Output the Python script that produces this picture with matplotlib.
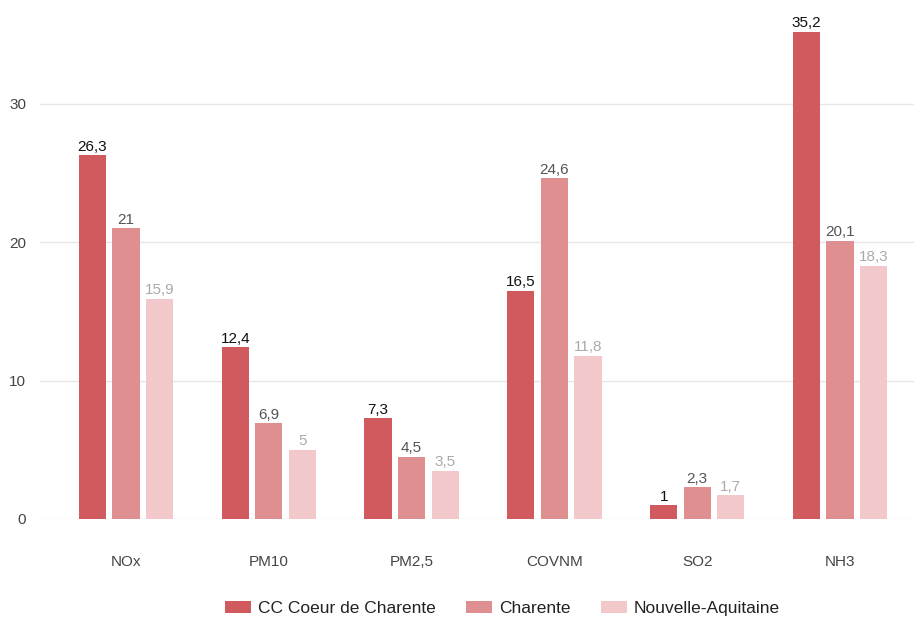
import matplotlib.pyplot as plt
import numpy as np

plt.rcParams['font.family'] = ['Liberation Sans', 'DejaVu Sans']

categories = ['NOx', 'PM10', 'PM2,5', 'COVNM', 'SO2', 'NH3']
series = ['CC Coeur de Charente', 'Charente', 'Nouvelle-Aquitaine']
cc = [26.3, 12.4, 7.3, 16.5, 1, 35.2]
charente = [21, 6.9, 4.5, 24.6, 2.3, 20.1]
nouvelle = [15.9, 5, 3.5, 11.8, 1.7, 18.3]

colors = ['#d05a5e', '#e08f91', '#f2c8ca']
label_colors = ['#111111', '#555555', '#aaaaaa']

fig = plt.figure(figsize=(9.14, 6.19), dpi=100)
ax = fig.add_axes([40 / 914, 1 - 519 / 619, 874 / 914, 515 / 619])

x = np.arange(len(categories))
w = 0.19
step = 0.235
for i, (vals, name) in enumerate(zip([cc, charente, nouvelle], series)):
    pos = x + (i - 1) * step
    ax.bar(pos, vals, width=w, color=colors[i], label=name, zorder=2)
    for p, v in zip(pos, vals):
        txt = ('%g' % v).replace('.', ',')
        ax.text(p, v + 0.1, txt, ha='center', va='bottom', fontsize=11,
                color=label_colors[i], zorder=3)

ax.set_xlim(-0.602, 5.518)
ax.set_ylim(0, 37.2)
ax.set_yticks([0, 10, 20, 30])
ax.set_xticks(x)
ax.set_xticklabels(categories)
ax.grid(axis='y', color='#e6e6e6', linewidth=1, zorder=0)
ax.tick_params(length=0, labelsize=11, labelcolor='#444444')
ax.tick_params(axis='x', pad=26)
ax.tick_params(axis='y', pad=10)
for s in ax.spines.values():
    s.set_visible(False)

ax.legend(loc='upper center', bbox_to_anchor=(0.529, -0.128), ncol=3, frameon=False,
          fontsize=12.5, handlelength=1.5, handleheight=0.75, columnspacing=1.75,
          handletextpad=0.4, labelcolor='#222222')

fig.savefig('out.png', dpi=100)
